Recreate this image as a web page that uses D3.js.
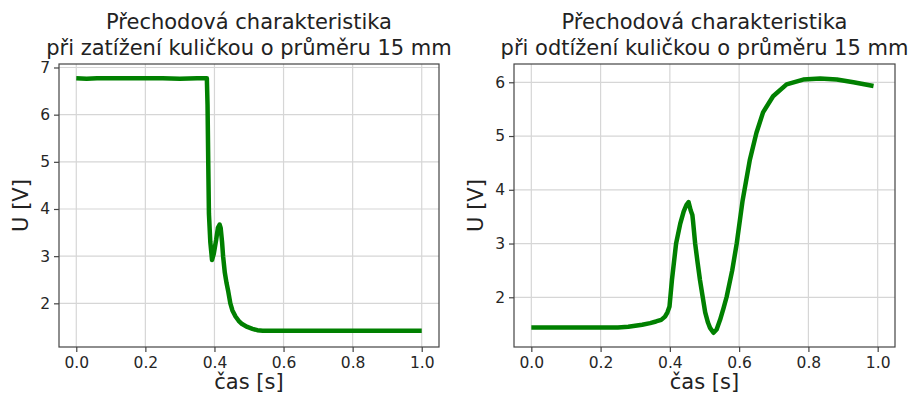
<!DOCTYPE html>
<html>
<head>
<meta charset="utf-8">
<script src="https://cdn.jsdelivr.net/npm/d3@7"></script>
<style>
  body { margin: 0; background: #fff; }
  svg { display: block; font-family: "DejaVu Sans", sans-serif; }
</style>
</head>
<body>
<div id="chart"></div>
<script>
// loading step (left) and unloading step (right)
const tLoad = [0, 0.03, 0.06, 0.1, 0.15, 0.2, 0.25, 0.3, 0.35, 0.378, 0.380, 0.382, 0.384, 0.388, 0.393,
               0.398, 0.405, 0.41, 0.415, 0.418, 0.422, 0.425, 0.43, 0.435, 0.44, 0.446, 0.452, 0.461,
               0.47, 0.48, 0.495, 0.51, 0.524, 0.54, 0.6, 0.7, 0.8, 0.9, 1.0];
const uLoad = [6.77, 6.76, 6.77, 6.77, 6.77, 6.77, 6.77, 6.76, 6.77, 6.77, 6.2, 5.0, 3.9, 3.3, 2.92,
               3.05, 3.35, 3.6, 3.67, 3.6, 3.3, 3.0, 2.65, 2.43, 2.25, 2.0, 1.85, 1.72,
               1.63, 1.56, 1.5, 1.46, 1.43, 1.42, 1.42, 1.42, 1.42, 1.42, 1.42];

const tUnload = [0, 0.05, 0.1, 0.15, 0.2, 0.25, 0.28, 0.3, 0.32, 0.343, 0.36, 0.375, 0.386, 0.393,
                 0.399, 0.406, 0.418, 0.43, 0.44, 0.448, 0.454, 0.46, 0.465, 0.467, 0.473, 0.48,
                 0.487, 0.495, 0.502, 0.51, 0.516, 0.526, 0.535, 0.545, 0.555, 0.564, 0.58, 0.593,
                 0.61, 0.631, 0.65, 0.669, 0.698, 0.737, 0.785, 0.834, 0.882, 0.93, 0.988];
const uUnload = [1.44, 1.44, 1.44, 1.44, 1.44, 1.44, 1.45, 1.47, 1.49, 1.52, 1.55, 1.58, 1.64, 1.72,
                 1.83, 2.32, 3.0, 3.37, 3.6, 3.72, 3.77, 3.62, 3.53, 3.41, 3.0, 2.65,
                 2.32, 2.0, 1.72, 1.53, 1.43, 1.34, 1.4, 1.58, 1.8, 2.01, 2.5, 3.0,
                 3.8, 4.56, 5.06, 5.44, 5.74, 5.96, 6.05, 6.07, 6.05, 6.0, 5.93];

const xTicks = [0, 0.2, 0.4, 0.6, 0.8, 1.0];
const yTicksLoad = [2, 3, 4, 5, 6, 7];
const yTicksUnload = [2, 3, 4, 5, 6];

const titlesLoad = ["Přechodová charakteristika", "při zatížení kuličkou o průměru 15 mm"];
const titlesUnload = ["Přechodová charakteristika", "při odtížení kuličkou o průměru 15 mm"];
const xLabel = "čas [s]", yLabel = "U [V]";

const width = 912, height = 394;

const svg = d3.select("#chart")
    .append("svg")
    .attr("width", width)
    .attr("height", height);

function panel(p) {
    const x = d3.scaleLinear().domain([-0.05, 1.05]).range([p.left, p.right]);
    const y = d3.scaleLinear().domain(p.ydom).range([p.bottom, p.top]);
    const g = svg.append("g");

    // grid
    g.append("g").selectAll("line").data(xTicks).join("line")
        .attr("x1", d => x(d)).attr("x2", d => x(d))
        .attr("y1", p.top).attr("y2", p.bottom)
        .attr("stroke", "#d6d6d6").attr("stroke-width", 1.2);
    g.append("g").selectAll("line").data(p.yTicks).join("line")
        .attr("x1", p.left).attr("x2", p.right)
        .attr("y1", d => y(d)).attr("y2", d => y(d))
        .attr("stroke", "#d6d6d6").attr("stroke-width", 1.2);

    // trace
    const line = d3.line().x((d, i) => x(p.t[i])).y(d => y(d));
    g.append("path")
        .datum(p.u)
        .attr("d", line)
        .attr("fill", "none")
        .attr("stroke", "#008000")
        .attr("stroke-width", 4.5)
        .attr("stroke-linejoin", "round")
        .attr("stroke-linecap", "butt");

    // axes
    const xAxis = g.append("g")
        .attr("transform", `translate(0,${p.bottom})`)
        .call(d3.axisBottom(x).tickValues(xTicks).tickFormat(d3.format(".1f")).tickSize(5).tickPadding(5));
    const yAxis = g.append("g")
        .attr("transform", `translate(${p.left},0)`)
        .call(d3.axisLeft(y).tickValues(p.yTicks).tickFormat(d3.format("d")).tickSize(5).tickPadding(4));
    for (const a of [xAxis, yAxis]) {
        a.select(".domain").remove();
        a.selectAll(".tick line").attr("stroke", "#444").attr("stroke-width", 1.2);
        a.selectAll(".tick text")
            .attr("fill", "#262626")
            .style("font-family", "DejaVu Sans")
            .style("font-size", "15.5px");
    }

    // frame
    g.append("rect")
        .attr("x", p.left).attr("y", p.top)
        .attr("width", p.right - p.left).attr("height", p.bottom - p.top)
        .attr("fill", "none").attr("stroke", "#444").attr("stroke-width", 1.2);

    // labels
    const cx = (p.left + p.right) / 2;
    g.append("text")
        .attr("x", cx).attr("y", 389)
        .attr("text-anchor", "middle")
        .style("font-size", "21px").attr("fill", "#222")
        .text(xLabel);
    g.append("text")
        .attr("transform", `translate(${p.left - 31},${(p.top + p.bottom) / 2}) rotate(-90)`)
        .attr("text-anchor", "middle")
        .style("font-size", "21px").attr("fill", "#222")
        .text(yLabel);
    g.selectAll(".title").data(p.titles).join("text")
        .attr("class", "title")
        .attr("x", cx).attr("y", (d, i) => 29 + i * 26)
        .attr("text-anchor", "middle")
        .style("font-size", "21px").attr("fill", "#222")
        .text(d => d);
}

panel({left: 59, right: 439, top: 64, bottom: 347, ydom: [1.074, 7.074],
       t: tLoad, u: uLoad, yTicks: yTicksLoad, titles: titlesLoad});
panel({left: 514, right: 895, top: 64, bottom: 347, ydom: [1.075, 6.34],
       t: tUnload, u: uUnload, yTicks: yTicksUnload, titles: titlesUnload});
</script>
</body>
</html>
